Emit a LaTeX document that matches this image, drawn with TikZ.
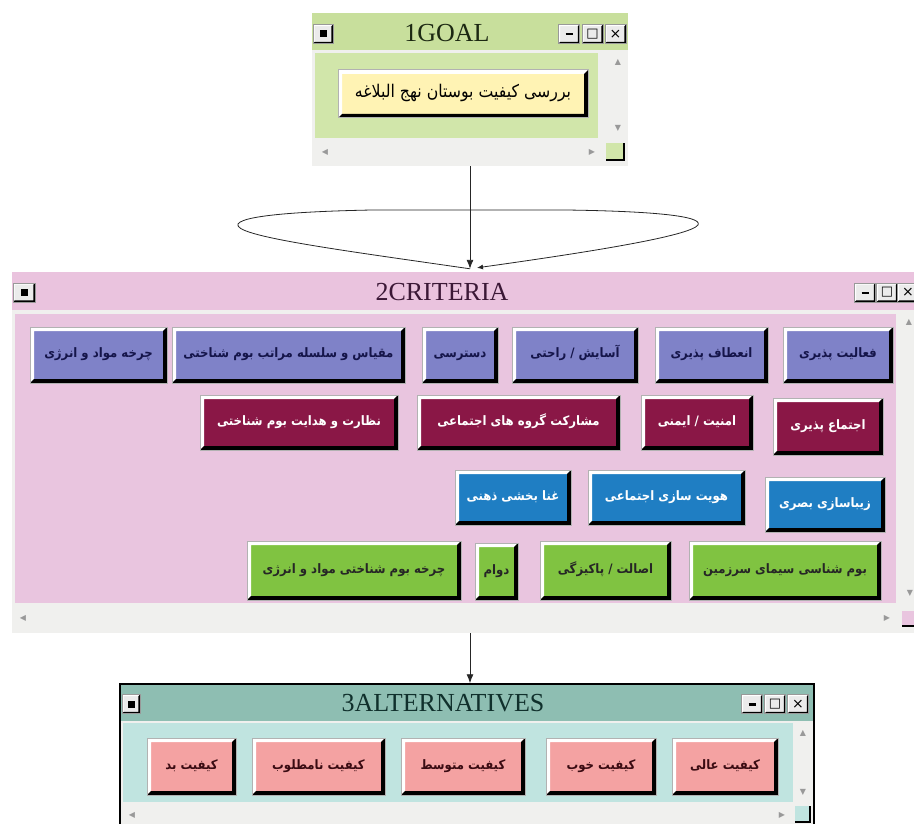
\documentclass[tikz,border=0pt]{standalone}
\usepackage{fontspec}
\setmainfont{Liberation Serif}
\newfontfamily\arabicfont[Script=Arabic, FakeStretch=0.9]{DejaVu Sans}
\newfontfamily\symfont{DejaVu Sans}
\TeXXeTstate=1
\newcommand{\fa}[1]{\beginR#1\endR}
\usetikzlibrary{arrows.meta}

\definecolor{goalbar}{HTML}{C8DF9C}
\definecolor{goalbg}{HTML}{D1E6AA}
\definecolor{critbar}{HTML}{EAC3DE}
\definecolor{critbg}{HTML}{E9C5DF}
\definecolor{altbar}{HTML}{8EBEB2}
\definecolor{altbg}{HTML}{C0E4E0}
\definecolor{scrollbg}{HTML}{F0F0EE}
\definecolor{periw}{HTML}{7F82C8}
\definecolor{maroon}{HTML}{8A1746}
\definecolor{seablue}{HTML}{1F7EC3}
\definecolor{leaf}{HTML}{80C341}
\definecolor{rose}{HTML}{F4A2A2}
\definecolor{cream}{HTML}{FFF3B4}
\definecolor{navy}{HTML}{15154A}
\definecolor{altink}{HTML}{3A0B12}
\definecolor{goalink}{HTML}{1C2812}
\definecolor{critink}{HTML}{3B1836}
\definecolor{alttitle}{HTML}{10302C}

\begin{document}
\begin{tikzpicture}[x=1pt, y=-1pt,
  bevel/.style={path picture={
      \coordinate (bnw) at (path picture bounding box.north west);
      \coordinate (bne) at (path picture bounding box.north east);
      \coordinate (bsw) at (path picture bounding box.south west);
      \coordinate (bse) at (path picture bounding box.south east);
      \fill[white] (bnw) -- (bne) -- ([shift={(-#1,-#1)}]bne)
        -- ([shift={(#1,-#1)}]bnw) -- ([shift={(#1,#1)}]bsw) -- (bsw) -- cycle;
      \fill[black] (bse) -- (bne) -- ([shift={(-#1,-#1)}]bne)
        -- ([shift={(-#1,#1)}]bse) -- ([shift={(#1,#1)}]bsw) -- (bsw) -- cycle;
  }},
  btn/.style={rectangle, inner sep=0pt, fill=#1, draw=black!30,
              line width=1pt, bevel=4pt, text height=9pt, text depth=4pt,
              font=\arabicfont\bfseries\fontsize{13}{15}\selectfont},
  crit1/.style={btn=periw, text=navy},
  crit2/.style={btn=maroon, text=white},
  crit3/.style={btn=seablue, text=white},
  crit4/.style={btn=leaf, text=black!85},
  altbtn/.style={btn=rose, text=altink},
  winbtn/.style={rectangle, inner sep=0pt, fill=black!8, draw=black!40,
                 line width=0.5pt, bevel=1.6pt,
                 minimum width=21pt, minimum height=19pt},
  win/.style={rectangle, inner sep=0pt, fill=scrollbg},
  wintitle/.style={font=\fontsize{26}{26}\selectfont, inner sep=0pt},
  scrollarr/.style={font=\symfont\fontsize{8}{8}\selectfont,
                    text=black!40, inner sep=0pt},
  flow/.style={-{Latex[length=9pt,width=7pt]}, line width=0.9pt, black!85},
  loopline/.style={-{Latex[length=6pt,width=5pt]}, line width=0.8pt, black!85}
]
\useasboundingbox (0,0) rectangle (914,824);

% goal window
\node[win, minimum width=316pt, minimum height=153pt] (goalwin) at (470,89.5) {};
\fill[goalbar] (312,13) rectangle (628,50);
\fill[goalbg] (315,53) rectangle (598,138);
\node[winbtn, minimum width=20pt] (gmenu) at (323,34) {\rule{7pt}{7pt}};
\node[wintitle, text=goalink] (gtitle) at (447,33) {1GOAL};
\node[winbtn] (gmin) at (569,34) {\raisebox{-3pt}{\rule{7pt}{2.5pt}}};
\node[winbtn] (gmax) at (592.5,34) {\symfont\fontsize{13}{13}\selectfont □};
\node[winbtn] (gclose) at (615.5,34) {\symfont\fontsize{14}{14}\selectfont ×};
\node[scrollarr] (gup) at (618,62) {▲};
\node[scrollarr] (gdown) at (618,128) {▼};
\node[scrollarr] (gleft) at (325,152) {◀};
\node[scrollarr] (gright) at (592,152) {▶};
\fill[goalbg] (606,143) rectangle (624,160);
\draw[line width=1.2pt] (606,160) -- (624,160) -- (624,143);
\node[btn=cream, text=black, font=\arabicfont\fontsize{17.5}{20}\selectfont,
      text height=12pt, text depth=5pt,
      minimum width=250pt, minimum height=48pt] (goalbox) at (463,94)
      {\fa{بررسی کیفیت بوستان نهج البلاغه}};

% criteria window
\node[win, minimum width=908pt, minimum height=361pt] (critwin) at (466,452.5) {};
\fill[critbar] (12,272) rectangle (920,310);
\fill[critbg] (15,314) rectangle (896,603);
\node[winbtn, minimum width=22pt] (cmenu) at (24,292.5) {\rule{7pt}{7pt}};
\node[wintitle, text=critink] (ctitle) at (442,292) {2CRITERIA};
\node[winbtn] (cmin) at (865,292.5) {\raisebox{-3pt}{\rule{7pt}{2.5pt}}};
\node[winbtn] (cmax) at (887,292.5) {\symfont\fontsize{13}{13}\selectfont □};
\node[winbtn] (cclose) at (908,292.5) {\symfont\fontsize{14}{14}\selectfont ×};
\node[scrollarr] (cup) at (909,322) {▲};
\node[scrollarr] (cdown) at (910,593) {▼};
\node[scrollarr] (cleft) at (23,618) {◀};
\node[scrollarr] (cright) at (887,618) {▶};
\fill[critbg] (902,611) rectangle (916,626);
\draw[line width=1.2pt] (902,626) -- (916,626);

\node[crit1, minimum width=110pt, minimum height=56pt] (activity) at (838,355) {\fa{فعالیت پذیری}};
\node[crit1, minimum width=113pt, minimum height=56pt] (flexible) at (711.5,355) {\fa{انعطاف پذیری}};
\node[crit1, minimum width=126pt, minimum height=56pt] (comfort) at (575,355) {\fa{آسایش / راحتی}};
\node[crit1, minimum width=76pt, minimum height=56pt] (access) at (460,355) {\fa{دسترسی}};
\node[crit1, minimum width=233pt, minimum height=56pt] (scale) at (288.5,355) {\fa{مقیاس و سلسله مراتب بوم شناختی}};
\node[crit1, minimum width=137pt, minimum height=56pt] (cycle) at (98.5,355) {\fa{چرخه مواد و انرژی}};

\node[crit2, minimum width=110pt, minimum height=57pt] (social) at (828,426.5) {\fa{اجتماع پذیری}};
\node[crit2, minimum width=112pt, minimum height=55pt] (safety) at (697,422.5) {\fa{امنیت / ایمنی}};
\node[crit2, minimum width=203pt, minimum height=55pt] (partic) at (518.5,422.5) {\fa{مشارکت گروه های اجتماعی}};
\node[crit2, minimum width=198pt, minimum height=55pt] (control) at (299,422.5) {\fa{نظارت و هدایت بوم شناختی}};

\node[crit3, minimum width=120pt, minimum height=55pt] (beauty) at (825,504.5) {\fa{زیباسازی بصری}};
\node[crit3, minimum width=157pt, minimum height=55pt] (identity) at (666.5,497.5) {\fa{هویت سازی اجتماعی}};
\node[crit3, minimum width=116pt, minimum height=55pt] (mind) at (513,497.5) {\fa{غنا بخشی ذهنی}};

\node[crit4, minimum width=192pt, minimum height=59pt] (landscape) at (785,570.5) {\fa{بوم شناسی سیمای سرزمین}};
\node[crit4, minimum width=131pt, minimum height=59pt] (clean) at (605.5,570.5) {\fa{اصالت / پاکیزگی}};
\node[crit4, minimum width=43pt, minimum height=57pt] (durable) at (496.5,571.5) {\fa{دوام}};
\node[crit4, minimum width=214pt, minimum height=59pt] (ecocycle) at (354,570.5) {\fa{چرخه بوم شناختی مواد و انرژی}};

% alternatives window
\node[win, draw=black, line width=1.5pt, minimum width=694pt, minimum height=156pt] (altwin) at (467,762) {};
\fill[altbar] (121,685) rectangle (813,721);
\fill[altbg] (123,723) rectangle (793,802);
\node[winbtn, minimum width=18pt] (amenu) at (131,704) {\rule{7pt}{7pt}};
\node[wintitle, text=alttitle] (atitle) at (443,703) {3ALTERNATIVES};
\node[winbtn] (amin) at (752,704) {\raisebox{-3pt}{\rule{7pt}{2.5pt}}};
\node[winbtn] (amax) at (775,704) {\symfont\fontsize{13}{13}\selectfont □};
\node[winbtn] (aclose) at (798,704) {\symfont\fontsize{14}{14}\selectfont ×};
\node[scrollarr] (aup) at (803,733) {▲};
\node[scrollarr] (adown) at (803,792) {▼};
\node[scrollarr] (aleft) at (132,815) {◀};
\node[scrollarr] (aright) at (782,815) {▶};
\fill[altbg] (795,806) rectangle (810,822);
\draw[line width=1.2pt] (795,822) -- (810,822) -- (810,806);

\node[altbtn, minimum width=106pt, minimum height=57pt] (excellent) at (725,766.5) {\fa{کیفیت عالی}};
\node[altbtn, minimum width=110pt, minimum height=57pt] (good) at (601,766.5) {\fa{کیفیت خوب}};
\node[altbtn, minimum width=124pt, minimum height=57pt] (medium) at (463,766.5) {\fa{کیفیت متوسط}};
\node[altbtn, minimum width=133pt, minimum height=57pt] (poor) at (318.5,766.5) {\fa{کیفیت نامطلوب}};
\node[altbtn, minimum width=89pt, minimum height=57pt] (bad) at (191.5,766.5) {\fa{کیفیت بد}};

% connectors
\coordinate (ctop) at (goalwin.south |- critwin.north);
\draw[flow] (goalwin.south) -- ([yshift=3pt]ctop);
\draw[loopline] ([yshift=3pt]ctop) .. controls (340,250) and (232,236) .. (238,224)
  .. controls (244,214) and (320,211) .. (372,210) -- (566,210)
  .. controls (640,211) and (704,215) .. (698,225)
  .. controls (690,236) and (590,252) .. ([xshift=7pt,yshift=4pt]ctop);
\draw[flow] (goalwin.south |- critwin.south) -- (goalwin.south |- altwin.north);
\end{tikzpicture}
\end{document}
